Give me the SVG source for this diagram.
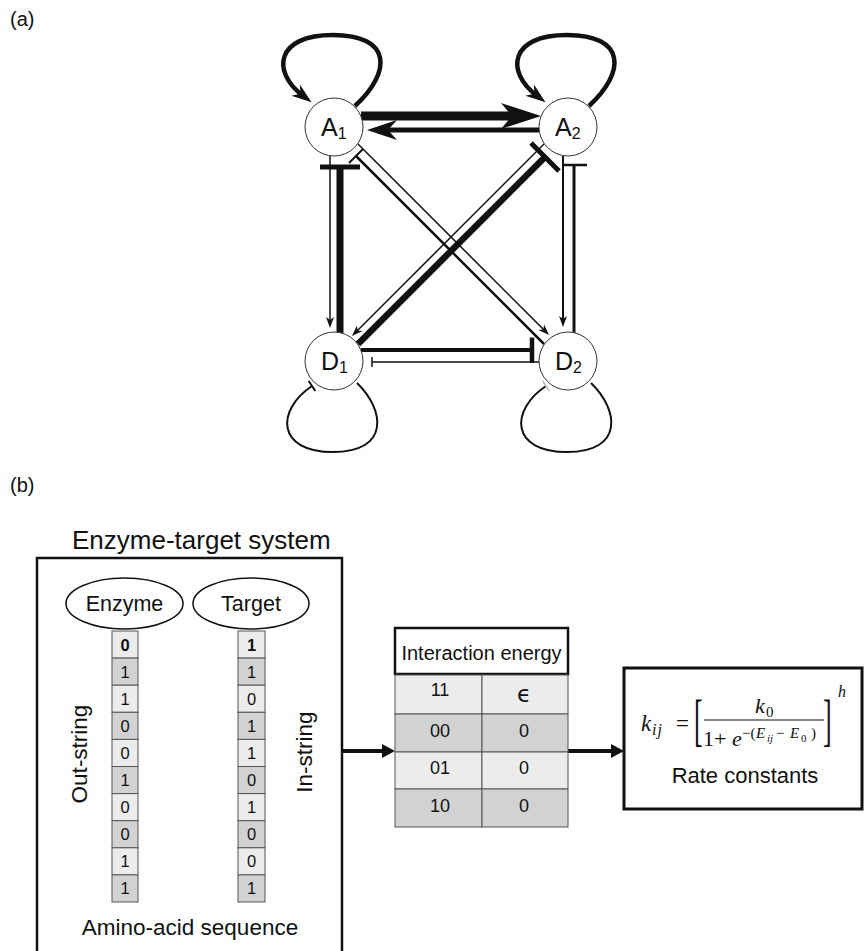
<svg xmlns="http://www.w3.org/2000/svg" width="865" height="951" viewBox="0 0 865 951">
<style>
.sans{font-family:"Liberation Sans",Arial,Helvetica,sans-serif;fill:#111}
.serif{font-family:"Liberation Serif","Times New Roman",serif;fill:#111}
.it{font-style:italic}
.node{fill:#fff;stroke:#333;stroke-width:1}
.ln{fill:none;stroke:#111;stroke-linecap:butt}
.cell{stroke:#555;stroke-width:1}
.lt{fill:#ececec}
.dk{fill:#d2d2d2}
</style>
<defs>
<marker id="ahBig" markerUnits="userSpaceOnUse" markerWidth="44" markerHeight="30" refX="-27" refY="0" orient="auto" overflow="visible"><path d="M0,0 L-40,-13 L-29,0 L-40,13 Z" fill="#111"/></marker>
<marker id="ahMed" markerUnits="userSpaceOnUse" markerWidth="32" markerHeight="22" refX="-19" refY="0" orient="auto" overflow="visible"><path d="M0,0 L-30,-10 L-21,0 L-30,10 Z" fill="#111"/></marker>
<marker id="ahLoop" markerUnits="userSpaceOnUse" markerWidth="22" markerHeight="16" refX="-12" refY="0" orient="auto" overflow="visible"><path d="M0,0 L-20,-7 L-14,0 L-20,7 Z" fill="#111"/></marker>
<marker id="ahSmall" markerUnits="userSpaceOnUse" markerWidth="14" markerHeight="10" refX="-6" refY="0" orient="auto" overflow="visible"><path d="M0,0 L-11,-4 L-8,0 L-11,4 Z" fill="#111"/></marker>
<marker id="ahBox" markerUnits="userSpaceOnUse" markerWidth="16" markerHeight="16" refX="-10" refY="0" orient="auto" overflow="visible"><path d="M0,0 L-13,-7 L-13,7 Z" fill="#111"/></marker>
</defs>

<text class="sans" x="10" y="26" font-size="20">(a)</text>
<text class="sans" x="10" y="492" font-size="20">(b)</text>

<g id="connectors">
  <!-- A1 <-> A2 -->
  <line class="ln" x1="361" y1="116" x2="514" y2="116" stroke-width="9" marker-end="url(#ahBig)"/>
  <line class="ln" x1="539" y1="130" x2="386" y2="130" stroke-width="5" marker-end="url(#ahMed)"/>
  <!-- A1 <-> D1 -->
  <line class="ln" x1="330" y1="156" x2="330" y2="322" stroke-width="1.5" marker-end="url(#ahSmall)"/>
  <line class="ln" x1="340" y1="333" x2="340" y2="167" stroke-width="7"/>
  <line class="ln" x1="320" y1="167" x2="360" y2="167" stroke-width="5"/>
  <!-- A2 <-> D2 -->
  <line class="ln" x1="563" y1="156" x2="563" y2="321" stroke-width="2" marker-end="url(#ahSmall)"/>
  <line class="ln" x1="574" y1="333" x2="574" y2="165" stroke-width="3"/>
  <line class="ln" x1="562" y1="165" x2="587" y2="165" stroke-width="2.5"/>
  <!-- D1 <-> D2 -->
  <line class="ln" x1="361" y1="350" x2="532" y2="350" stroke-width="4"/>
  <line class="ln" x1="532" y1="337.5" x2="532" y2="363" stroke-width="4.5"/>
  <line class="ln" x1="539" y1="362" x2="372" y2="362" stroke-width="1.5"/>
  <line class="ln" x1="372" y1="357" x2="372" y2="367" stroke-width="1.5"/>
  <!-- A2 <-> D1 diagonal -->
  <line class="ln" x1="358" y1="344" x2="545" y2="157" stroke-width="6.5"/>
  <line class="ln" x1="531" y1="143" x2="559" y2="171" stroke-width="5"/>
  <line class="ln" x1="544" y1="144" x2="356.2" y2="331.8" stroke-width="1.5" marker-end="url(#ahSmall)"/>
  <!-- A1 <-> D2 diagonal -->
  <line class="ln" x1="358" y1="144" x2="544.8" y2="330.8" stroke-width="1.5" marker-end="url(#ahSmall)"/>
  <line class="ln" x1="544" y1="344" x2="356" y2="156" stroke-width="2.5"/>
  <line class="ln" x1="349" y1="163" x2="363" y2="149" stroke-width="2"/>
  <!-- self loops -->
  <path class="ln" d="M355,106 C392,72 392,35 333,35 C275,35 272,72 302,95" stroke-width="4.5" marker-end="url(#ahLoop)"/>
  <path class="ln" d="M589,106 C626,72 626,35 567,35 C509,35 506,72 536,95" stroke-width="4.5" marker-end="url(#ahLoop)"/>
  <path class="ln" d="M357,383 C385,410 390,452 333,452 C276,452 276,410 312,386" stroke-width="2"/>
  <line class="ln" x1="308.7" y1="381" x2="315.3" y2="391" stroke-width="2"/>
  <path class="ln" d="M591,383 C619,410 624,452 567,452 C510,452 510,410 546,386" stroke-width="2"/>
  <line x1="542.7" y1="381" x2="549.3" y2="391" stroke="#bbb" stroke-width="1.5"/>
  <!-- part b arrows -->
  <line class="ln" x1="342" y1="751" x2="385" y2="751" stroke-width="4" marker-end="url(#ahBox)"/>
  <line class="ln" x1="568" y1="751" x2="614" y2="751" stroke-width="4" marker-end="url(#ahBox)"/>
</g>

<g id="A1"><circle class="node" cx="334" cy="127" r="29"/><text class="sans" x="321" y="136" font-size="25">A<tspan font-size="16" dy="3">1</tspan></text></g>
<g id="A2"><circle class="node" cx="568" cy="127" r="29"/><text class="sans" x="555" y="136" font-size="25">A<tspan font-size="16" dy="3">2</tspan></text></g>
<g id="D1"><circle class="node" cx="334" cy="361" r="29"/><text class="sans" x="321" y="370" font-size="25">D<tspan font-size="16" dy="3">1</tspan></text></g>
<g id="D2"><circle class="node" cx="568" cy="361" r="29"/><text class="sans" x="555" y="370" font-size="25">D<tspan font-size="16" dy="3">2</tspan></text></g>

<text class="sans" x="72" y="549" font-size="26">Enzyme-target system</text>

<g id="enzyme-target-box">
  <path d="M37,960 L37,558 L342,558 L342,960" fill="none" stroke="#111" stroke-width="2.5"/>
  <text class="sans" transform="translate(87,754) rotate(-90)" text-anchor="middle" font-size="22.5">Out-string</text>
  <text class="sans" transform="translate(312,752) rotate(-90)" text-anchor="middle" font-size="22.5">In-string</text>
  <text class="sans" x="190" y="935" text-anchor="middle" font-size="22.5">Amino-acid sequence</text>
</g>

<g id="enzyme"><ellipse cx="124.5" cy="603.5" rx="58.5" ry="25.5" fill="#fff" stroke="#111" stroke-width="1.5"/><text class="sans" x="124.5" y="611" text-anchor="middle" font-size="21.5">Enzyme</text></g>
<g id="target"><ellipse cx="251" cy="603.5" rx="58" ry="25.5" fill="#fff" stroke="#111" stroke-width="1.5"/><text class="sans" x="251" y="611" text-anchor="middle" font-size="21.5">Target</text></g>

<g id="enzyme-string" class="sans" font-size="16.5" text-anchor="middle">
  <rect class="cell lt" x="112" y="631" width="26" height="27.1"/>
  <rect class="cell dk" x="112" y="658.1" width="26" height="27.1"/>
  <rect class="cell lt" x="112" y="685.2" width="26" height="27.1"/>
  <rect class="cell dk" x="112" y="712.3" width="26" height="27.1"/>
  <rect class="cell lt" x="112" y="739.4" width="26" height="27.1"/>
  <rect class="cell dk" x="112" y="766.5" width="26" height="27.1"/>
  <rect class="cell lt" x="112" y="793.6" width="26" height="27.1"/>
  <rect class="cell dk" x="112" y="820.7" width="26" height="27.1"/>
  <rect class="cell lt" x="112" y="847.8" width="26" height="27.1"/>
  <rect class="cell dk" x="112" y="874.9" width="26" height="27.1"/>
  <text x="125" y="650.5" font-weight="bold">0</text>
  <text x="125" y="677.5">1</text>
  <text x="125" y="704.5">1</text>
  <text x="125" y="731.5">0</text>
  <text x="125" y="758.7">0</text>
  <text x="125" y="785.8">1</text>
  <text x="125" y="813">0</text>
  <text x="125" y="840">0</text>
  <text x="125" y="867">1</text>
  <text x="125" y="894">1</text>
</g>

<g id="target-string" class="sans" font-size="16.5" text-anchor="middle">
  <rect class="cell lt" x="238" y="631" width="27" height="27.1"/>
  <rect class="cell dk" x="238" y="658.1" width="27" height="27.1"/>
  <rect class="cell lt" x="238" y="685.2" width="27" height="27.1"/>
  <rect class="cell dk" x="238" y="712.3" width="27" height="27.1"/>
  <rect class="cell lt" x="238" y="739.4" width="27" height="27.1"/>
  <rect class="cell dk" x="238" y="766.5" width="27" height="27.1"/>
  <rect class="cell lt" x="238" y="793.6" width="27" height="27.1"/>
  <rect class="cell dk" x="238" y="820.7" width="27" height="27.1"/>
  <rect class="cell lt" x="238" y="847.8" width="27" height="27.1"/>
  <rect class="cell dk" x="238" y="874.9" width="27" height="27.1"/>
  <text x="251.5" y="650.5" font-weight="bold">1</text>
  <text x="251.5" y="677.5">1</text>
  <text x="251.5" y="704.5">0</text>
  <text x="251.5" y="731.5">1</text>
  <text x="251.5" y="758.7">1</text>
  <text x="251.5" y="785.8">0</text>
  <text x="251.5" y="813">1</text>
  <text x="251.5" y="840">0</text>
  <text x="251.5" y="867">0</text>
  <text x="251.5" y="894">1</text>
</g>

<g id="interaction-energy" class="sans" text-anchor="middle">
  <rect x="395" y="628" width="173" height="46" fill="#fff" stroke="#111" stroke-width="2.5"/>
  <text x="481.5" y="660" font-size="20">Interaction energy</text>
  <rect class="cell lt" x="395" y="675" width="87" height="39"/>
  <rect class="cell lt" x="482" y="675" width="86" height="39"/>
  <rect class="cell dk" x="395" y="714" width="87" height="38"/>
  <rect class="cell dk" x="482" y="714" width="86" height="38"/>
  <rect class="cell lt" x="395" y="752" width="87" height="37"/>
  <rect class="cell lt" x="482" y="752" width="86" height="37"/>
  <rect class="cell dk" x="395" y="789" width="87" height="38"/>
  <rect class="cell dk" x="482" y="789" width="86" height="38"/>
  <text x="440" y="696" font-size="18">11</text>
  <text x="524" y="702" font-size="23" style="font-family:'DejaVu Sans','Liberation Sans',sans-serif">ϵ</text>
  <text x="440" y="737" font-size="18">00</text>
  <text x="524" y="737" font-size="18">0</text>
  <text x="440" y="774" font-size="18">01</text>
  <text x="524" y="774" font-size="18">0</text>
  <text x="440" y="812" font-size="18">10</text>
  <text x="524" y="812" font-size="18">0</text>
</g>

<g id="rate-constants">
  <rect x="624" y="668" width="238" height="141" fill="#fff" stroke="#111" stroke-width="3"/>
  <text class="serif it" x="641" y="731" font-size="23">k</text>
  <text class="serif it" x="652" y="735" font-size="16" letter-spacing="1">ij</text>
  <text class="serif" x="676" y="731" font-size="23">=</text>
  <text class="serif" transform="translate(694,739) scale(1,2.2)" font-size="26">[</text>
  <text class="serif it" x="755" y="713" font-size="22">k</text>
  <text class="serif" x="766" y="717" font-size="15">0</text>
  <line x1="704" y1="720" x2="824" y2="720" stroke="#111" stroke-width="1"/>
  <text class="serif" x="703" y="746" font-size="22">1</text>
  <text class="serif" x="714" y="746" font-size="22">+</text>
  <text class="serif it" x="732" y="746" font-size="22">e</text>
  <text class="serif" x="742" y="738" font-size="15">−(</text>
  <text class="serif it" x="756" y="738" font-size="15">E</text>
  <text class="serif it" x="767" y="742" font-size="11">ij</text>
  <text class="serif" x="776" y="738" font-size="15">−</text>
  <text class="serif it" x="790" y="738" font-size="15">E</text>
  <text class="serif" x="801" y="742" font-size="11">0</text>
  <text class="serif" x="811" y="738" font-size="15">)</text>
  <text class="serif" transform="translate(823,739) scale(1,2.2)" font-size="26">]</text>
  <text class="serif it" x="838" y="697" font-size="16">h</text>
  <text class="sans" x="745" y="783" text-anchor="middle" font-size="22">Rate constants</text>
</g>
</svg>
